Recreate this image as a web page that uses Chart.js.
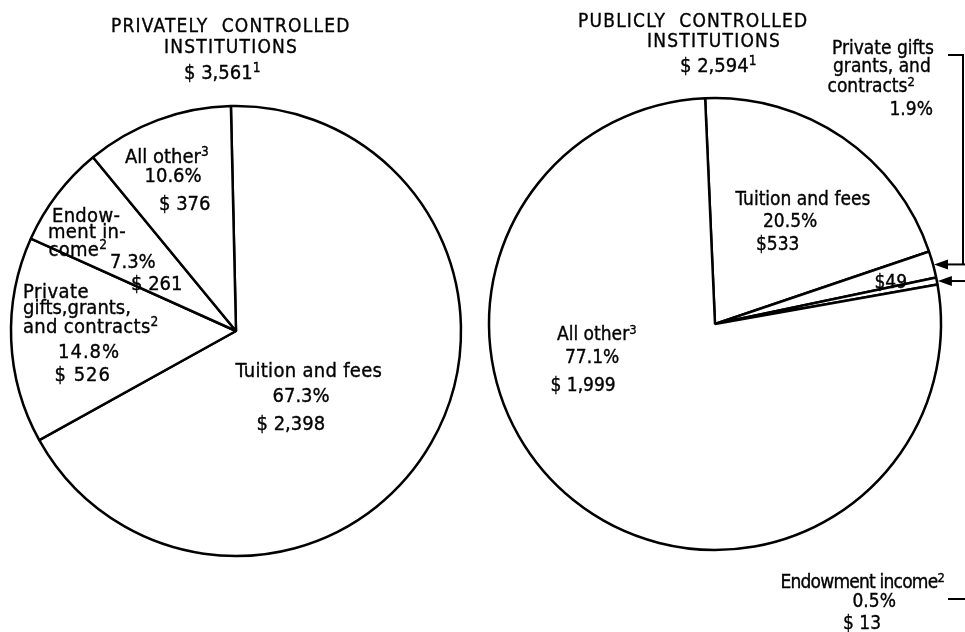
<!DOCTYPE html>
<html>
<head>
<meta charset="utf-8">
<script src="https://cdn.jsdelivr.net/npm/chart.js@4"></script>
<style>
html, body { margin: 0; padding: 0; background: #fff; }
#wrap { position: relative; width: 965px; height: 632px; overflow: hidden; color: #000;
  font-family: "DejaVu Sans Condensed", "DejaVu Sans", sans-serif; }
#wrap canvas { position: absolute; top: 0; }
#left-pie { left: 0; }
#right-pie { left: 480px; }
.t { position: absolute; white-space: nowrap; line-height: 1; -webkit-text-stroke: 0.35px #000; }
.t sup { font-size: 0.68em; vertical-align: 0.5em; line-height: 0; }
</style>
</head>
<body>
<div id="wrap">
  <canvas id="left-pie" width="480" height="632"></canvas>
  <canvas id="right-pie" width="485" height="632"></canvas>
</div>
<script>
// Current-fund revenue per student, by source (dollars)
const categories = ['Tuition and fees', 'Private gifts, grants, and contracts', 'Endowment income', 'All other'];
const privatePercent = [67.3, 14.8, 7.3, 10.6];
const privateDollars = [2398, 526, 261, 376];
const privateTotal = 3561;
const publicPercent = [20.5, 1.9, 0.5, 77.1];
const publicDollars = [533, 49, 13, 1999];
const publicTotal = 2594;

const money = v => '$ ' + v.toLocaleString('en-US');
const pct = v => v.toFixed(1) + '%';

// arrows from the right-hand notes into the two thin public slices
const arrowPlugin = {
    id: 'arrows',
    afterDraw(chart) {
        const ctx = chart.ctx;
        const arcs = chart.getDatasetMeta(0).data;
        const off = 480;
        const right = chart.width;
        const tips = [1, 2].map(i => {
            const a = arcs[i];
            const mid = (a.startAngle + a.endAngle) / 2;
            return { x: a.x + a.outerRadius * Math.cos(mid), y: a.y + a.outerRadius * Math.sin(mid) };
        });
        ctx.save();
        ctx.strokeStyle = '#000';
        ctx.fillStyle = '#000';
        ctx.lineWidth = 2;
        // bracket from "Private gifts" note
        ctx.beginPath();
        ctx.moveTo(948 - off, 55);
        ctx.lineTo(963 - off, 55);
        ctx.lineTo(963 - off, tips[0].y);
        ctx.stroke();
        // stub from "Endowment income" note
        ctx.beginPath();
        ctx.moveTo(948 - off, 599);
        ctx.lineTo(right, 599);
        ctx.stroke();
        tips.forEach(p => {
            ctx.beginPath();
            ctx.moveTo(right, p.y);
            ctx.lineTo(p.x + 8, p.y);
            ctx.stroke();
            ctx.beginPath();
            ctx.moveTo(p.x + 1, p.y);
            ctx.lineTo(p.x + 15, p.y - 5);
            ctx.lineTo(p.x + 15, p.y + 5);
            ctx.closePath();
            ctx.fill();
        });
        ctx.restore();
    }
};

function makePie(id, values, rotation, radius, padding, plugins) {
    return new Chart(document.getElementById(id).getContext('2d'), {
        type: 'pie',
        data: {
            labels: categories,
            datasets: [{
                data: values,
                backgroundColor: '#ffffff',
                borderColor: '#000000',
                borderWidth: 2.5,
                hoverOffset: 0
            }]
        },
        options: {
            responsive: false,
            animation: false,
            rotation: rotation,
            radius: radius,
            layout: { padding: padding },
            events: [],
            plugins: { legend: { display: false }, tooltip: { enabled: false } }
        },
        plugins: plugins
    });
}

makePie('left-pie', privatePercent, -1.3, 225, { left: 1, right: 9, top: 96, bottom: 66 }, []);
makePie('right-pie', publicPercent, -2.5, 226, { left: 0, right: 15, top: 89, bottom: 73 }, [arrowPlugin]);

// text: x, baseline, html, size, align, letter spacing
const wrap = document.getElementById('wrap');
function put(x, base, html, size, align, ls) {
    const d = document.createElement('div');
    d.className = 't';
    d.innerHTML = html;
    d.style.fontSize = size + 'px';
    d.style.top = (base - 0.846 * size) + 'px';
    if (ls) d.style.letterSpacing = ls + 'px';
    wrap.appendChild(d);
    if (align === 'left') d.style.left = x + 'px';
    else d.style.left = (x - d.offsetWidth / 2) + 'px';
}

// private side
put(231, 32, 'PRIVATELY&nbsp;&nbsp;CONTROLLED', 19, 'center', 1.2);
put(231, 53, 'INSTITUTIONS', 19, 'center', 1.2);
put(222, 79, money(privateTotal) + '<sup>1</sup>', 20, 'center');
put(167, 163, 'All other<sup>3</sup>', 20, 'center');
put(173, 182, pct(privatePercent[3]), 20, 'center');
put(185, 210, money(privateDollars[3]), 20, 'center');
put(86, 222, 'Endow-', 20, 'center', 0.3);
put(87, 238, 'ment in-', 20, 'center', 0.3);
put(78, 256, 'come<sup>2</sup>', 20, 'center', 0.3);
put(133, 268, pct(privatePercent[2]), 20, 'center');
put(157, 290, money(privateDollars[2]), 20, 'center');
put(23, 298, 'Private', 20, 'left', 0.5);
put(23, 314, 'gifts,grants,', 20, 'left', 0);
put(23, 333, 'and contracts<sup>2</sup>', 20, 'left', 0.3);
put(89, 358, pct(privatePercent[1]), 20, 'center', 1);
put(83, 381, money(privateDollars[1]), 20, 'center', 1);
put(309, 377, 'Tuition and fees', 20, 'center', 0.3);
put(301, 402, pct(privatePercent[0]), 20, 'center');
put(291, 430, money(privateDollars[0]), 20, 'center');

// public side
put(693, 27, 'PUBLICLY&nbsp;&nbsp;CONTROLLED', 19, 'center', 1.2);
put(714, 47, 'INSTITUTIONS', 19, 'center', 1.2);
put(718, 72, money(publicTotal) + '<sup>1</sup>', 20, 'center');
put(883, 54, 'Private gifts', 19, 'center');
put(882, 72, 'grants, and', 19, 'center');
put(871, 92, 'contracts<sup>2</sup>', 19, 'center');
put(911, 115, pct(publicPercent[1]), 19, 'center');
put(803, 205, 'Tuition and fees', 19, 'center');
put(790, 227, pct(publicPercent[0]), 19, 'center');
put(778, 250, money(publicDollars[0]).replace(' ', ''), 19, 'center');
put(891, 288, money(publicDollars[1]).replace(' ', ''), 19, 'center');
put(597, 340, 'All other<sup>3</sup>', 19, 'center');
put(592, 363, pct(publicPercent[3]), 19, 'center');
put(583, 391, money(publicDollars[3]), 19, 'center');
put(862, 588, 'Endowment income<sup>2</sup>', 19, 'center', -0.8);
put(874, 607, pct(publicPercent[2]), 19, 'center');
put(862, 629, money(publicDollars[2]), 19, 'center');
</script>
</body>
</html>
